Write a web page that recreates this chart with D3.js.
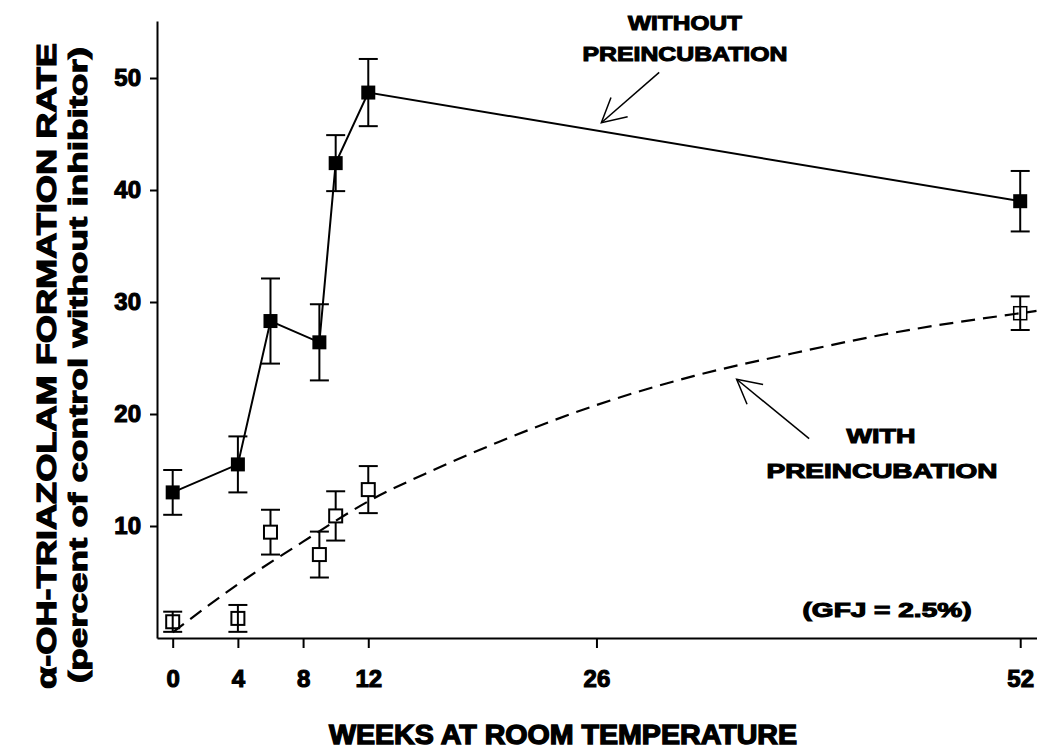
<!DOCTYPE html>
<html>
<head>
<meta charset="utf-8">
<script src="https://cdn.jsdelivr.net/npm/d3@7"></script>
<style>
  html, body { margin: 0; padding: 0; background: #fff; }
  svg { display: block; }
  text { font-family: "Liberation Sans", Arial, sans-serif; font-weight: bold; fill: #000; }
</style>
</head>
<body>
<svg id="chart" width="1037" height="751"></svg>
<script>
// ---- data ----
const weeksFilled = [0, 4, 6, 9, 10, 12, 52];
const withoutPre = [13.0, 15.5, 28.3, 26.4, 42.4, 48.7, 39.0];
const withoutPreErr = [2.0, 2.5, 3.8, 3.4, 2.5, 3.0, 2.7];

const weeksOpen = [0, 4, 6, 9, 10, 12, 52];
const withPre = [1.45, 1.75, 9.45, 7.45, 10.9, 13.25, 29.0];
const withPreErr = [0.9, 1.2, 2.0, 2.05, 2.2, 2.1, 1.5];

const fitWeeks = [0, 4, 8, 12, 16, 20, 26, 32, 38, 44, 52, 53];
const fitValues = [0.5, 4.8, 8.6, 12.2, 15.0, 17.5, 20.8, 23.4, 25.4, 27.2, 29.0, 29.2];

const xTicks = [0, 4, 8, 12, 26, 52];
const yTicks = [10, 20, 30, 40, 50];

// arrow annotations in data units: tail -> tip
const arrows = [
  { from: [29.85, 50.5], to: [26.3, 46.0] },
  { from: [39.05, 17.8], to: [34.6, 23.1] }
];

// ---- layout ----
const svg = d3.select("#chart");
const x = d3.scaleLinear().domain([-0.963, 53.03]).range([157, 1037]);
const y = d3.scaleLinear().domain([0, 55.09]).range([638, 21]);

// axes
const xAxis = d3.axisBottom(x).tickValues(xTicks).tickSize(10).tickSizeOuter(0).tickPadding(22);
const yAxis = d3.axisLeft(y).tickValues(yTicks).tickSize(7).tickSizeOuter(0).tickPadding(9);

const gx = svg.append("g").attr("transform", "translate(0,638)").call(xAxis);
const gy = svg.append("g").attr("transform", "translate(157,0)").call(yAxis);
[gx, gy].forEach(g => {
  g.select(".domain").attr("stroke", "#000").attr("stroke-width", 2);
  g.selectAll(".tick line").attr("stroke", "#000").attr("stroke-width", 2);
  g.selectAll(".tick text")
    .style("font-family", '"Liberation Sans", Arial, sans-serif')
    .style("font-weight", "bold")
    .style("font-size", "24px")
    .attr("fill", "#000")
    .attr("stroke", "#000").attr("stroke-width", 1.1);
});

// ---- fitted dashed curve (with preincubation) ----
const fitData = fitWeeks.map((w, i) => [w, fitValues[i]]);
const lineFit = d3.line().x(d => x(d[0])).y(d => y(d[1])).curve(d3.curveMonotoneX);

// ---- solid line (without preincubation) ----
const filledData = weeksFilled.map((w, i) => ({ w, v: withoutPre[i], e: withoutPreErr[i] }));
const openData = weeksOpen.map((w, i) => ({ w, v: withPre[i], e: withPreErr[i] }));

const lineSolid = d3.line().x(d => x(d.w)).y(d => y(d.v));

svg.append("path").datum(filledData)
  .attr("d", lineSolid).attr("fill", "none").attr("stroke", "#000").attr("stroke-width", 2);

// error bars
function errorBars(data, capW) {
  const g = svg.append("g").attr("stroke", "#000").attr("stroke-width", 2);
  data.forEach(d => {
    g.append("line").attr("x1", x(d.w)).attr("x2", x(d.w))
      .attr("y1", y(d.v + d.e)).attr("y2", y(d.v - d.e));
    g.append("line").attr("x1", x(d.w) - capW / 2).attr("x2", x(d.w) + capW / 2)
      .attr("y1", y(d.v + d.e)).attr("y2", y(d.v + d.e));
    g.append("line").attr("x1", x(d.w) - capW / 2).attr("x2", x(d.w) + capW / 2)
      .attr("y1", y(d.v - d.e)).attr("y2", y(d.v - d.e));
  });
}
errorBars(filledData, 19);
errorBars(openData, 19);

// open markers
const sO = 13;
svg.append("g").selectAll("rect").data(openData).join("rect")
  .attr("x", d => x(d.w) - sO / 2).attr("y", d => y(d.v) - sO / 2)
  .attr("width", sO).attr("height", sO)
  .attr("fill", (d, i) => (i < 2 || i === openData.length - 1) ? "none" : "#fff")
  .attr("stroke", "#000").attr("stroke-width", (d, i) => i === openData.length - 1 ? 1.5 : 2);

// dashed curve on top of open markers
svg.append("path").datum(fitData)
  .attr("d", lineFit).attr("fill", "none").attr("stroke", "#000")
  .attr("stroke-width", 2.2).attr("stroke-dasharray", "14,8");

// filled markers
const sF = 14;
svg.append("g").selectAll("rect").data(filledData).join("rect")
  .attr("x", d => x(d.w) - sF / 2).attr("y", d => y(d.v) - sF / 2)
  .attr("width", sF).attr("height", sF).attr("fill", "#000");

// ---- arrows ----
arrows.forEach(a => {
  const x1 = x(a.from[0]), y1 = y(a.from[1]), x2 = x(a.to[0]), y2 = y(a.to[1]);
  const ang = Math.atan2(y1 - y2, x1 - x2);
  const L = 27, sp = 28 * Math.PI / 180;
  const g = svg.append("g").attr("stroke", "#000").attr("stroke-width", 1.5).attr("fill", "none");
  g.append("line").attr("x1", x1).attr("y1", y1).attr("x2", x2).attr("y2", y2);
  g.append("path").attr("d",
    `M${x2 + L * Math.cos(ang + sp)},${y2 + L * Math.sin(ang + sp)}L${x2},${y2}L${x2 + L * Math.cos(ang - sp)},${y2 + L * Math.sin(ang - sp)}`);
});

// ---- texts ----
function label(txt, xp, yp, size, len, rotate, sw) {
  const t = svg.append("text").text(txt)
    .attr("text-anchor", "middle")
    .style("font-size", size + "px")
    .attr("stroke", "#000").attr("stroke-width", sw || 1.1);
  if (len) t.attr("textLength", len).attr("lengthAdjust", "spacingAndGlyphs");
  if (rotate) t.attr("transform", `translate(${xp},${yp}) rotate(-90)`);
  else t.attr("x", xp).attr("y", yp);
  return t;
}

label("WITHOUT", 685, 30, 21, 114);
label("PREINCUBATION", 685, 61, 21, 205);
label("WITH", 881, 443, 21, 69);
label("PREINCUBATION", 882, 478, 21, 231);
label("(GFJ = 2.5%)", 887, 617, 20, 169);

label("WEEKS AT ROOM TEMPERATURE", 563, 744, 28, 468, false, 1.4);

label("\u03B1-OH-TRIAZOLAM FORMATION RATE", 56, 366, 28, 646, true, 1.2);
label("(percent of control without inhibitor)", 87, 365, 26, 636, true, 1.1);
</script>
</body>
</html>
